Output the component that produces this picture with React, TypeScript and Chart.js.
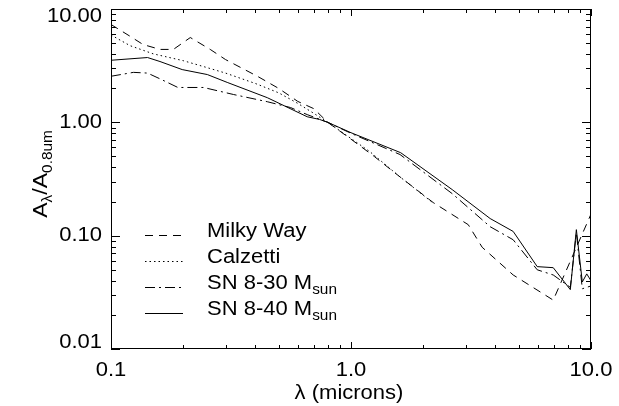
import React, { useEffect, useRef } from "react";
import { Chart, registerables } from "chart.js";

Chart.register(...registerables);

// ---- data (wavelength in microns, extinction normalised at 0.8 um) ----
const milkyWayLambda = [0.1, 0.12, 0.136, 0.16, 0.182, 0.214, 0.259, 0.3, 0.41, 0.5, 0.6, 0.7, 0.8, 1.0, 1.25, 1.6, 2.2, 3.08, 3.52, 4.74, 6.96, 10.0];
const milkyWayA = [7.3, 5.75, 4.86, 4.4, 4.4, 5.6, 4.4, 3.58, 2.53, 1.99, 1.53, 1.32, 1.0, 0.71, 0.5, 0.33, 0.196, 0.125, 0.079, 0.045, 0.027, 0.155];

const calzettiLambda = [0.1, 0.12, 0.15, 0.2, 0.25, 0.3, 0.4, 0.5, 0.6, 0.7, 0.8, 1.0, 1.2, 1.6, 2.2];
const calzettiA = [5.9, 4.75, 4.02, 3.5, 3.05, 2.72, 2.2, 1.82, 1.47, 1.2, 1.0, 0.72, 0.55, 0.33, 0.194];

const sn830Lambda = [0.1, 0.124, 0.142, 0.16, 0.19, 0.243, 0.324, 0.448, 0.56, 0.657, 0.8, 1.0, 1.6, 2.64, 3.8, 4.74, 5.97, 6.96, 8.2, 8.69, 9.2, 10.0];
const sn830A = [2.55, 2.76, 2.72, 2.42, 2.03, 2.03, 1.76, 1.52, 1.35, 1.17, 1.0, 0.8, 0.52, 0.235, 0.12, 0.092, 0.05, 0.045, 0.035, 0.106, 0.034, 0.036];

const sn840Lambda = [0.1, 0.142, 0.16, 0.198, 0.252, 0.305, 0.448, 0.657, 0.74, 0.8, 1.0, 1.61, 2.64, 3.8, 4.74, 5.97, 6.96, 8.2, 8.69, 9.2, 9.6, 10.0];
const sn840A = [3.53, 3.73, 3.44, 2.92, 2.64, 2.25, 1.65, 1.12, 1.06, 1.0, 0.81, 0.54, 0.255, 0.1416, 0.109, 0.0533, 0.0522, 0.0334, 0.113, 0.039, 0.046, 0.04];

const seriesMain = ["Milky Way", "Calzetti", "SN 8-30 M", "SN 8-40 M"];
const seriesSub = ["", "", "sun", "sun"];

const xMajorValues = [0.1, 1, 10];
const xMajorLabels = ["0.1", "1.0", "10.0"];
const yMajorValues = [0.01, 0.1, 1, 10];
const yMajorLabels = ["0.01", "0.10", "1.00", "10.00"];

const xTitle = "λ (microns)";

// ---- styling ----
const FONT = '"Liberation Sans", Arial, Helvetica, sans-serif';
const SX = 1.1;
const dashes = [[8, 6], [1.5, 3], [10, 4, 2, 4], []];

function pts(xs: number[], ys: number[]) {
  return xs.map((x, i) => ({ x, y: ys[i] }));
}

function txt(ctx: CanvasRenderingContext2D, s: string, x: number, y: number, size: number, align: CanvasTextAlign, base: CanvasTextBaseline) {
  ctx.save();
  ctx.font = `${size}px ${FONT}`;
  ctx.textAlign = align;
  ctx.textBaseline = base;
  ctx.translate(x, y);
  ctx.scale(SX, 1);
  ctx.fillText(s, 0, 0);
  ctx.restore();
}
function tw(ctx: CanvasRenderingContext2D, s: string, size: number) {
  ctx.save();
  ctx.font = `${size}px ${FONT}`;
  const w = ctx.measureText(s).width * SX;
  ctx.restore();
  return w;
}

const idlPlugin = {
  id: "idlAxes",
  afterDraw(chart: any) {
    const { ctx, chartArea: ca, scales } = chart;
    const xs = scales.x;
    const ys = scales.y;
    ctx.save();
    ctx.strokeStyle = "#000";
    ctx.fillStyle = "#000";
    ctx.lineWidth = 1;
    ctx.setLineDash([]);
    ctx.strokeRect(ca.left + 0.5, ca.top + 0.5, ca.right - ca.left - 1, ca.bottom - ca.top - 1);

    const minor = (decades: number[]) => {
      const out: number[] = [];
      decades.forEach((d) => {
        for (let k = 2; k <= 9; k++) out.push(k * d);
      });
      return out;
    };
    const line = (x1: number, y1: number, x2: number, y2: number) => {
      ctx.beginPath();
      ctx.moveTo(x1, y1);
      ctx.lineTo(x2, y2);
      ctx.stroke();
    };
    // x ticks
    const xTicks = [...xMajorValues.map((v) => [v, 7]), ...minor([0.1, 1]).map((v) => [v, 4])];
    xTicks.forEach(([v, len]) => {
      const px = Math.round(xs.getPixelForValue(v)) + 0.5;
      line(px, ca.bottom, px, ca.bottom - len);
      line(px, ca.top, px, ca.top + len);
    });
    // y ticks
    const yTicks = [...yMajorValues.map((v) => [v, 9]), ...minor([0.01, 0.1, 1]).map((v) => [v, 5])];
    yTicks.forEach(([v, len]) => {
      const py = Math.round(ys.getPixelForValue(v)) + 0.5;
      line(ca.left, py, ca.left + len, py);
      line(ca.right, py, ca.right - len, py);
    });
    // labels
    xMajorValues.forEach((v, i) => {
      txt(ctx, xMajorLabels[i], xs.getPixelForValue(v), ca.bottom + 21, 20, "center", "middle");
    });
    yMajorValues.forEach((v, i) => {
      const py = Math.min(Math.max(ys.getPixelForValue(v), ca.top + 7), ca.bottom - 7);
      txt(ctx, yMajorLabels[i], ca.left - 9, py, 20, "right", "middle");
    });
    // x title
    txt(ctx, xTitle, (ca.left + ca.right) / 2 - 2, 399, 20, "center", "alphabetic");

    // y title: A_lambda / A_0.8um (rotated)
    ctx.save();
    ctx.translate(47, 174);
    ctx.rotate(-Math.PI / 2);
    const parts: [string, number, number][] = [["A", 21, 0], ["λ", 14, 5], ["/A", 21, 0], ["0.8um", 14, 5]];
    const total = parts.reduce((s, p) => s + tw(ctx, p[0], p[1]), 0);
    let cx = -total / 2;
    parts.forEach(([s, size, dy]) => {
      txt(ctx, s, cx, dy, size, "left", "alphabetic");
      cx += tw(ctx, s, size);
    });
    ctx.restore();

    // legend
    const baselines = [237, 263, 289, 315];
    seriesMain.forEach((name, i) => {
      const by = baselines[i];
      ctx.save();
      ctx.setLineDash(dashes[i]);
      ctx.lineWidth = 1;
      line(145, by - 1.5, 183, by - 1.5);
      ctx.restore();
      txt(ctx, name, 207, by, 20, "left", "alphabetic");
      if (seriesSub[i]) {
        const w = tw(ctx, name, 20);
        txt(ctx, seriesSub[i], 207 + w, by + 5, 14, "left", "alphabetic");
      }
    });
    ctx.restore();
  },
};

export default function App() {
  const ref = useRef<HTMLCanvasElement | null>(null);
  useEffect(() => {
    if (!ref.current) return;
    const mk = (label: string, xs: number[], ys: number[], dash: number[]) => ({
      label,
      data: pts(xs, ys),
      borderColor: "#000",
      backgroundColor: "#000",
      borderWidth: 1,
      borderDash: dash,
      pointRadius: 0,
      tension: 0,
      fill: false,
    });
    const chart = new Chart(ref.current, {
      type: "line",
      data: {
        datasets: [
          mk(seriesMain[0], milkyWayLambda, milkyWayA, dashes[0]),
          mk(seriesMain[1], calzettiLambda, calzettiA, dashes[1]),
          mk(seriesMain[2] + seriesSub[2], sn830Lambda, sn830A, dashes[2]),
          mk(seriesMain[3] + seriesSub[3], sn840Lambda, sn840A, dashes[3]),
        ],
      },
      options: {
        animation: false,
        responsive: false,
        maintainAspectRatio: false,
        devicePixelRatio: 1,
        layout: { padding: { left: 111, right: 28, top: 9, bottom: 57 } },
        plugins: { legend: { display: false }, tooltip: { enabled: false } },
        scales: {
          x: { type: "logarithmic", min: 0.1, max: 10, display: false },
          y: { type: "logarithmic", min: 0.01, max: 10, display: false },
        },
      },
      plugins: [idlPlugin],
    } as any);
    return () => chart.destroy();
  }, []);
  return (
    <div style={{ position: "fixed", left: 0, top: 0, width: 619, height: 406, background: "#fff" }}>
      <canvas ref={ref} width={619} height={406} style={{ display: "block" }} />
    </div>
  );
}
